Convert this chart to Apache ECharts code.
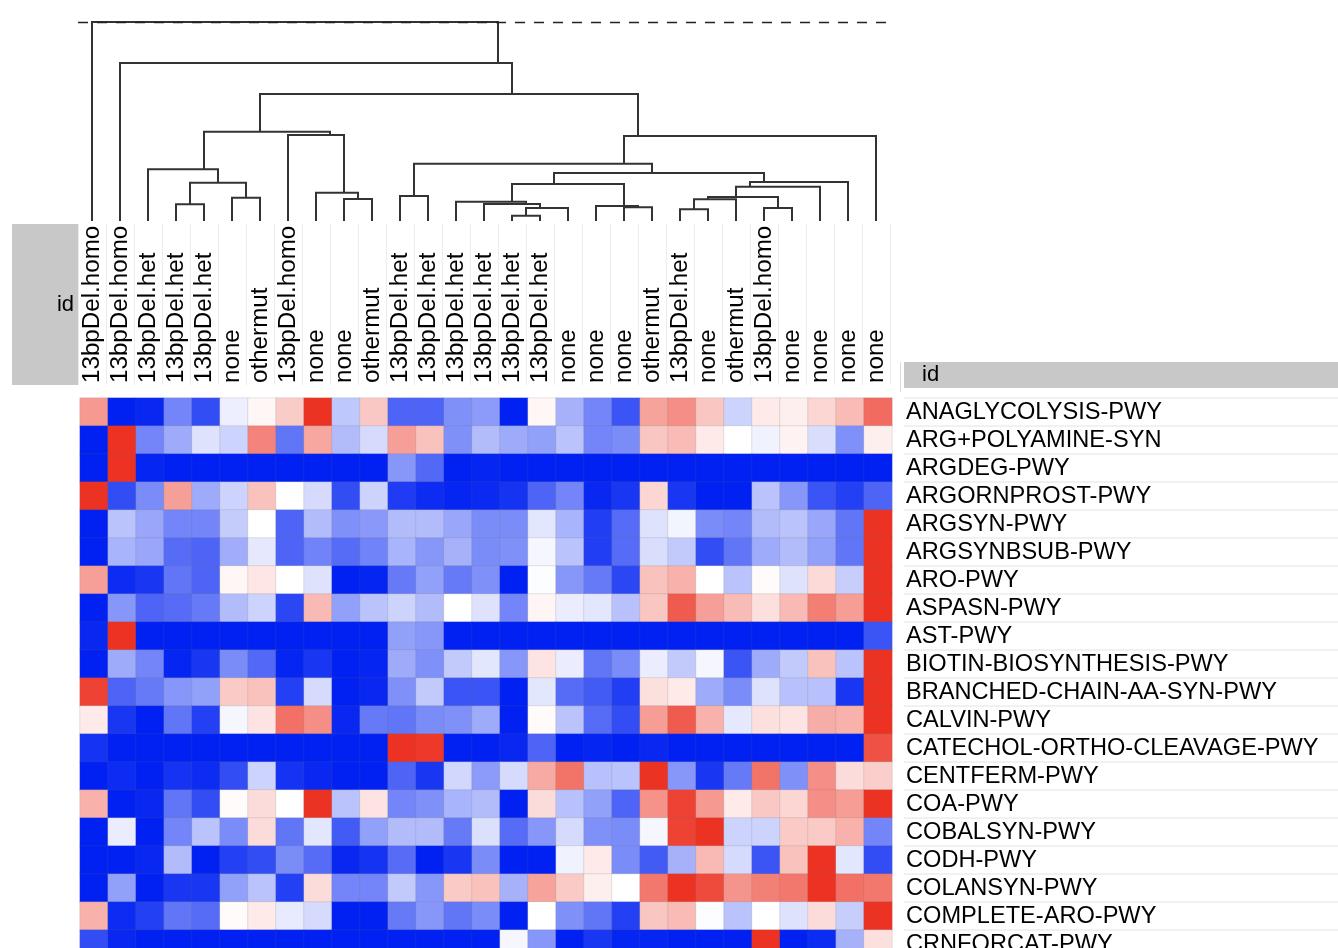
<!DOCTYPE html>
<html>
<head>
<meta charset="utf-8">
<script src="https://cdn.jsdelivr.net/npm/echarts@6/dist/echarts.min.js"></script>
<style>
html,body{margin:0;padding:0;background:#fff;overflow:hidden;}
#chart{width:1338px;height:960px;}
</style>
</head>
<body>
<div id="chart"></div>
<script>
// ---------- data ----------
const columnLabels = ['13bpDel.homo','13bpDel.homo','13bpDel.het','13bpDel.het','13bpDel.het','none','othermut','13bpDel.homo','none','none','othermut','13bpDel.het','13bpDel.het','13bpDel.het','13bpDel.het','13bpDel.het','13bpDel.het','none','none','none','othermut','13bpDel.het','none','othermut','13bpDel.homo','none','none','none','none'];
const rowLabels = ['ANAGLYCOLYSIS-PWY','ARG+POLYAMINE-SYN','ARGDEG-PWY','ARGORNPROST-PWY','ARGSYN-PWY','ARGSYNBSUB-PWY','ARO-PWY','ASPASN-PWY','AST-PWY','BIOTIN-BIOSYNTHESIS-PWY','BRANCHED-CHAIN-AA-SYN-PWY','CALVIN-PWY','CATECHOL-ORTHO-CLEAVAGE-PWY','CENTFERM-PWY','COA-PWY','COBALSYN-PWY','CODH-PWY','COLANSYN-PWY','COMPLETE-ARO-PWY','CRNFORCAT-PWY'];

const vANAGLYCOLYSIS = [0.5,-1,-0.97,-0.55,-0.8,-0.07,0.04,0.25,1,-0.25,0.27,-0.7,-0.7,-0.5,-0.45,-1,0.04,-0.35,-0.55,-0.77,0.45,0.55,0.28,-0.2,0.1,0.08,0.2,0.33,0.72];
const vARGPOLYAMINE = [-1,1,-0.55,-0.38,-0.13,-0.2,0.6,-0.62,0.43,-0.3,-0.16,0.47,0.3,-0.5,-0.3,-0.38,-0.43,-0.27,-0.55,-0.52,0.28,0.33,0.1,0,-0.06,0.06,-0.15,-0.5,0.08];
const vARGDEG = [-1,1,-0.98,-1,-1,-1,-1,-1,-1,-1,-1,-0.47,-0.68,-1,-0.98,-1,-1,-1,-1,-1,-1,-1,-1,-1,-1,-1,-1,-1,-1];
const vARGORNPROST = [1,-0.8,-0.52,0.47,-0.38,-0.2,0.3,0,-0.16,-0.8,-0.2,-0.88,-0.95,-0.98,-0.96,-0.92,-0.7,-0.55,-0.97,-0.9,0.2,-0.9,-1,-1,-0.27,-0.47,-0.77,-0.86,-0.7];
const vARGSYN = [-1,-0.27,-0.4,-0.55,-0.55,-0.23,0,-0.7,-0.3,-0.5,-0.46,-0.3,-0.3,-0.4,-0.52,-0.52,-0.11,-0.34,-0.87,-0.66,-0.13,-0.05,-0.52,-0.55,-0.3,-0.27,-0.4,-0.62,1];
const vARGSYNBSUB = [-1,-0.34,-0.4,-0.66,-0.7,-0.37,-0.1,-0.7,-0.56,-0.66,-0.56,-0.34,-0.47,-0.35,-0.52,-0.5,-0.04,-0.27,-0.87,-0.66,-0.15,-0.24,-0.8,-0.62,-0.38,-0.3,-0.43,-0.62,1];
const vARO = [0.47,-0.95,-0.9,-0.62,-0.7,0.04,0.12,0,-0.13,-1,-0.98,-0.6,-0.43,-0.6,-0.5,-1,-0.01,-0.47,-0.6,-0.83,0.3,0.38,0,-0.27,0.02,-0.13,0.18,-0.22,1];
const vASPASN = [-1,-0.47,-0.7,-0.66,-0.6,-0.3,-0.2,-0.83,0.34,-0.43,-0.27,-0.2,-0.3,0,-0.13,-0.55,0.05,-0.08,-0.11,-0.28,0.28,0.8,0.47,0.33,0.15,0.34,0.63,0.48,1];
const vAST = [-0.97,1,-1,-1,-1,-1,-1,-1,-1,-1,-1,-0.43,-0.47,-1,-1,-1,-1,-1,-1,-1,-1,-1,-1,-1,-1,-1,-1,-1,-0.77];
const vBIOTIN = [-1,-0.38,-0.55,-0.98,-0.9,-0.52,-0.68,-0.98,-0.9,-1,-0.98,-0.38,-0.5,-0.24,-0.11,-0.47,0.13,-0.08,-0.62,-0.52,-0.08,-0.24,-0.04,-0.77,-0.38,-0.24,0.3,-0.27,1];
const vBRANCHED = [0.92,-0.7,-0.6,-0.47,-0.43,0.26,0.3,-0.86,-0.16,-1,-0.97,-0.5,-0.24,-0.77,-0.77,-1,-0.11,-0.66,-0.74,-0.87,0.15,0.1,-0.38,-0.52,-0.13,-0.28,-0.28,-0.9,1];
const vCALVIN = [0.1,-0.9,-1,-0.62,-0.86,-0.04,0.13,0.7,0.55,-0.97,-0.6,-0.62,-0.52,-0.5,-0.38,-1,0.02,-0.27,-0.66,-0.8,0.48,0.8,0.38,-0.1,0.15,0.13,0.4,0.38,1];
const vCATECHOL = [-0.92,-1,-1,-1,-1,-1,-1,-1,-1,-1,-1,1,0.97,-1,-1,-0.97,-0.7,-1,-0.98,-1,-0.97,-1,-1,-1,-1,-1,-1,-1,0.85];
const vCENTFERM = [-1,-0.95,-1,-0.92,-0.95,-0.8,-0.2,-0.92,-0.97,-1,-1,-0.7,-0.9,-0.18,-0.45,-0.16,0.42,0.68,-0.28,-0.27,1,-0.47,-0.9,-0.6,0.68,-0.5,0.55,0.17,0.24];
const vCOA = [0.38,-1,-0.97,-0.62,-0.8,0.02,0.17,0,1,-0.27,0.13,-0.55,-0.5,-0.34,-0.3,-1,0.17,-0.28,-0.43,-0.7,0.53,0.92,0.5,0.1,0.27,0.2,0.55,0.48,1];
const vCOBALSYN = [-1,-0.08,-1,-0.55,-0.27,-0.52,0.17,-0.62,-0.11,-0.74,-0.43,-0.3,-0.3,-0.6,-0.14,-0.66,-0.47,-0.16,-0.5,-0.52,-0.04,0.92,1,-0.2,-0.2,0.26,0.26,0.38,-0.55];
const vCODH = [-1,-1,-0.97,-0.3,-1,-0.86,-0.8,-0.52,-0.66,-0.97,-0.92,-0.66,-1,-0.9,-0.52,-1,-1,-0.06,0.1,-0.52,-0.74,-0.35,0.34,-0.16,-0.77,0.3,1,-0.11,-0.8];
const vCOLANSYN = [-1,-0.43,-1,-0.9,-0.9,-0.43,-0.27,-0.86,0.17,-0.55,-0.55,-0.24,-0.47,0.26,0.3,-0.35,0.45,0.26,0.08,0,0.66,1,0.88,0.52,0.62,0.66,1,0.7,0.66];
const vCOMPLETEARO = [0.38,-0.95,-0.86,-0.62,-0.66,0.02,0.1,-0.09,-0.16,-1,-1,-0.6,-0.47,-0.62,-0.52,-1,0,-0.5,-0.62,-0.86,0.28,0.33,-0.01,-0.27,0,-0.13,0.17,-0.22,1];
const vCRNFORCAT = [-0.8,-0.97,-1,-1,-1,-1,-1,-1,-1,-1,-1,-1,-1,-1,-1,-0.04,-0.47,-1,-0.9,-0.98,-0.98,-1,-1,-1,1,-1,-0.95,-0.35,0.15];

const rowValues = [vANAGLYCOLYSIS,vARGPOLYAMINE,vARGDEG,vARGORNPROST,vARGSYN,vARGSYNBSUB,vARO,vASPASN,vAST,vBIOTIN,vBRANCHED,vCALVIN,vCATECHOL,vCENTFERM,vCOA,vCOBALSYN,vCODH,vCOLANSYN,vCOMPLETEARO,vCRNFORCAT];

// dendrogram (linkage): ids < 29 are leaves, id >= 29 refers to merge (id-29)
const mergeLeft   = [15,29,14,13,19,18,32,21,36,24,37,39,40,35,11,43,44, 3, 5,46, 2, 9, 8, 7,49,53, 1, 0];
const mergeRight  = [16,17,30,31,20,33,34,22,23,25,38,26,27,41,12,42,28, 4, 6,47,48,10,50,51,52,45,54,55];
const mergeHeight = [0.027,0.065,0.085,0.097,0.069,0.075,0.186,0.059,0.109,0.065,0.121,0.172,0.196,0.241,0.126,0.288,0.427,0.084,0.117,0.192,0.260,0.111,0.142,0.432,0.449,0.638,0.794,1.0];

// ---------- build ----------
const nLeaf = columnLabels.length;
const heatData = [];
rowValues.forEach((row, r) => row.forEach((v, c) => heatData.push([c, r, v])));

const nodeInfo = {};
function info(id) {
  if (id < nLeaf) return {x: id, h: 0, n: 1};
  if (nodeInfo[id]) return nodeInfo[id];
  const k = id - nLeaf;
  const a = info(mergeLeft[k]), b = info(mergeRight[k]);
  const n = a.n + b.n;
  const res = {x: (a.x * a.n + b.x * b.n) / n, h: mergeHeight[k], n: n};
  nodeInfo[id] = res;
  return res;
}
const dendroData = mergeLeft.map((l, k) => {
  const a = info(l), b = info(mergeRight[k]);
  return [a.x, a.h, b.x, b.h, mergeHeight[k]];
});
const rootHeight = Math.max.apply(null, mergeHeight);

const FONT = '"Liberation Sans", Arial, Helvetica, sans-serif';

const chart = echarts.init(document.getElementById('chart'));
chart.setOption({
  animation: false,
  backgroundColor: '#ffffff',
  textStyle: {fontFamily: FONT},
  grid: [
    {left: 80, top: 398, width: 812, height: 560},   // heatmap
    {left: 78, top: 224, width: 812, height: 161},   // column label band
    {left: 904, top: 398, width: 434, height: 560},  // row label band
    {left: 78, top: 22, width: 812, height: 199}     // dendrogram
  ],
  xAxis: [
    {gridIndex: 0, type: 'category', data: columnLabels, show: true,
     axisLine: {show: false}, axisTick: {show: false}, axisLabel: {show: false}, splitLine: {show: false}},
    {gridIndex: 1, type: 'category', data: columnLabels, position: 'bottom',
     axisLine: {show: false}, axisTick: {show: false},
     axisLabel: {show: true, inside: true, rotate: 90, margin: 2, interval: 0, fontSize: 24.2, color: '#000', fontFamily: FONT},
     splitLine: {show: true, interval: 0, lineStyle: {color: '#ececec', width: 1}}},
    {gridIndex: 2, type: 'value', show: false},
    {gridIndex: 3, type: 'value', min: -0.5, max: nLeaf - 0.5, show: false}
  ],
  yAxis: [
    {gridIndex: 0, type: 'category', data: rowLabels, inverse: true, position: 'right',
     axisLine: {show: false}, axisTick: {show: false},
     axisLabel: {show: true, interval: 0, margin: 14, fontSize: 23.6, color: '#000', fontFamily: FONT},
     splitLine: {show: false}},
    {gridIndex: 1, type: 'value', show: false},
    {gridIndex: 2, type: 'category', data: rowLabels, inverse: true,
     axisLine: {show: false}, axisTick: {show: false}, axisLabel: {show: false},
     splitLine: {show: true, interval: 0, lineStyle: {color: '#ececec', width: 1.5}}},
    {gridIndex: 3, type: 'value', min: 0, max: rootHeight, show: false}
  ],
  visualMap: {
    show: false, type: 'continuous', min: -1, max: 1, seriesIndex: 0,
    inRange: {color: ['#0021f2', '#ffffff', '#ec3223']}
  },
  series: [
    {
      type: 'heatmap', xAxisIndex: 0, yAxisIndex: 0, data: heatData,
      itemStyle: {borderColor: 'rgba(110,110,110,0.16)', borderWidth: 1},
      emphasis: {disabled: true}, silent: true
    },
    {
      type: 'custom', xAxisIndex: 3, yAxisIndex: 3, data: dendroData, silent: true,
      encode: {x: [0, 2], y: [1, 3, 4]},
      renderItem: function (params, api) {
        const p1 = api.coord([api.value(0), api.value(1)]);
        const p2 = api.coord([api.value(0), api.value(4)]);
        const p3 = api.coord([api.value(2), api.value(4)]);
        const p4 = api.coord([api.value(2), api.value(3)]);
        return {type: 'polyline', shape: {points: [p1, p2, p3, p4]},
                style: {stroke: '#333333', lineWidth: 2, fill: null}};
      },
      markLine: {
        silent: true, symbol: 'none', label: {show: false},
        lineStyle: {type: [10, 9], color: '#222', width: 1.3},
        data: [{yAxis: rootHeight}]
      }
    }
  ],
  graphic: [
    {type: 'rect', shape: {x: 12, y: 224, width: 66, height: 161}, style: {fill: '#c8c8c8'}, silent: true},
    {type: 'text', style: {x: 74, y: 305, text: 'id', font: '22px ' + FONT, fill: '#000', textAlign: 'right', textVerticalAlign: 'middle'}, silent: true},
    {type: 'rect', shape: {x: 904, y: 362, width: 434, height: 26}, style: {fill: '#c8c8c8'}, silent: true},
    {type: 'text', style: {x: 922, y: 375, text: 'id', font: '22px ' + FONT, fill: '#000', textAlign: 'left', textVerticalAlign: 'middle'}, silent: true},
    {type: 'line', shape: {x1: 900.5, y1: 362, x2: 900.5, y2: 392}, style: {stroke: '#dddddd', lineWidth: 1}, silent: true}
  ]
});
</script>
</body>
</html>
